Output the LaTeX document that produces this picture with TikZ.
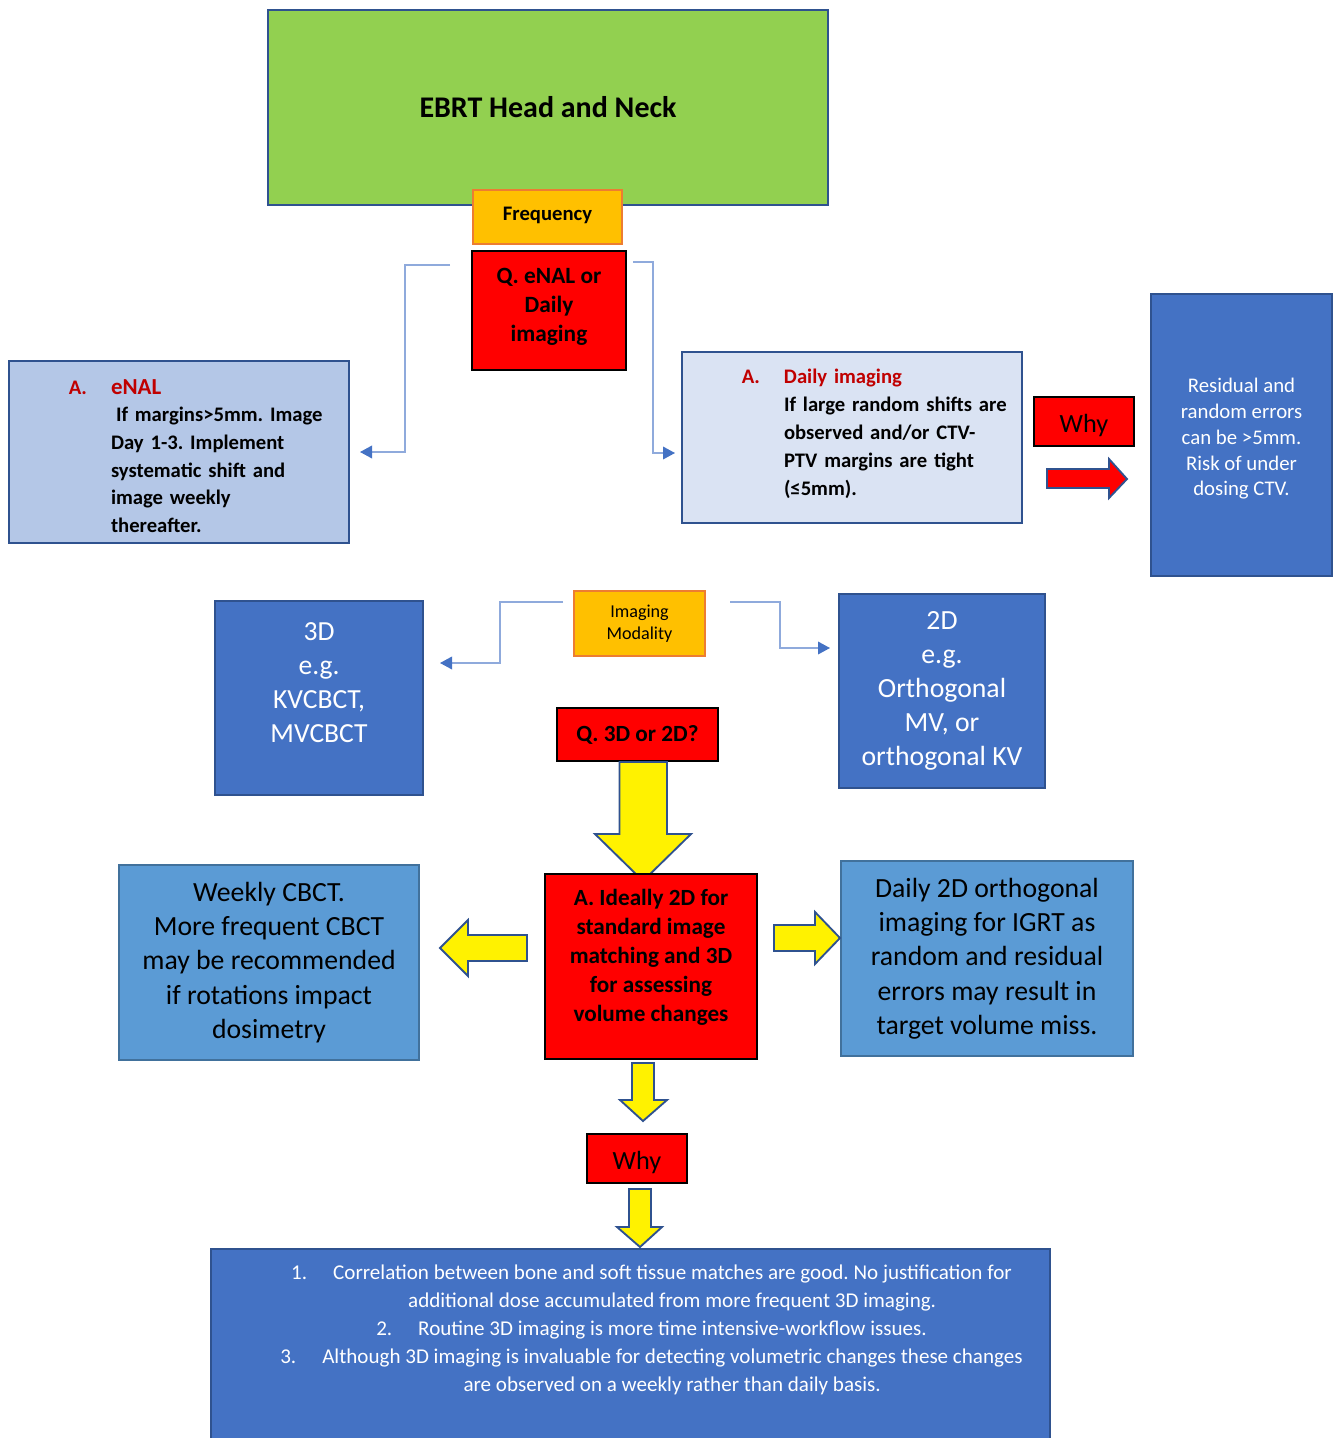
\documentclass[tikz,border=0pt]{standalone}
\usepackage{fontspec}
\setmainfont{Carlito}
\usepackage{xcolor}
\definecolor{grassgreen}{HTML}{92D050}
\definecolor{edgeblue}{HTML}{2F528F}
\definecolor{gold}{HTML}{FFC000}
\definecolor{goldedge}{HTML}{ED7D31}
\definecolor{paleblue}{HTML}{B4C7E7}
\definecolor{mistblue}{HTML}{DAE3F3}
\definecolor{slateblue}{HTML}{4472C4}
\definecolor{linkblue}{HTML}{8FAADC}
\definecolor{skyblue}{HTML}{5B9BD5}
\definecolor{skyedge}{HTML}{41719C}
\definecolor{answerred}{HTML}{C00000}
\usepackage{tikz}
\usetikzlibrary{positioning}
\usetikzlibrary{arrows.meta}
\newcommand{\fsz}[2]{\fontsize{#1}{#2}\selectfont}
\frenchspacing

\begin{document}
\begin{tikzpicture}[x=0.75pt,y=-0.75pt,every node/.style={inner sep=0,outer sep=0},
	sz/.style 2 args={minimum width={#1*0.75pt},minimum height={#2*0.75pt}},
	panel/.style={rectangle,draw=edgeblue,line width=1.4pt},
	goldbox/.style={rectangle,draw=goldedge,fill=gold,line width=1.4pt},
	redbox/.style={rectangle,draw=black,fill=red,line width=1.1pt},
	bluebox/.style={panel,fill=slateblue,text=white},
	skybox/.style={rectangle,draw=skyedge,fill=skyblue,line width=1.4pt,align=center,font=\fsz{20.8}{25.7}},
	link/.style={draw=linkblue,line width=1pt,-{Triangle[length=9pt,width=9.5pt,color=slateblue]}},
	yarrow/.style={draw=edgeblue,fill=yellow,line width=1.4pt},
	rarrow/.style={draw=edgeblue,fill=red,line width=1.4pt}]
	\useasboundingbox (0,0) rectangle (1336,1438);
	% frequency branch
	\node[panel,fill=grassgreen,sz={560}{195},font=\bfseries\fsz{22.5}{27}] (title) at (548,107.5) {EBRT Head and Neck};
	\node[goldbox,sz={149}{54}] (freq) at (547.5,217) {};
	\node[font=\bfseries\fsz{15.5}{19}] (freqtxt) at (547.5,215.5) {Frequency};
	\node[redbox,sz={154}{119}] (qenal) at (549,310.5) {};
	\node[align=center,font=\bfseries\fsz{17.5}{21.75}] (qenaltxt) at (549,306.5) {Q. eNAL or\\Daily\\imaging};
	\node[panel,fill=paleblue,sz={340}{182}] (enal) at (179,452) {};
	\node[anchor=west,text width=180pt,align=left,font=\bfseries\fsz{15.5}{20.8}] (enaltxt) at (111,456)
		{{\color{answerred}\llap{A.\hspace{18pt}}\fsz{17.2}{20.8}eNAL}\\\hspace*{3.75pt}If margins>5mm. Image\\Day 1-3. Implement\\systematic shift and\\image weekly\\thereafter.};
	\node[panel,fill=mistblue,sz={340}{171}] (daily) at (852,437.5) {};
	\node[anchor=west,text width=180pt,align=left,font=\bfseries\fsz{15.5}{21}] (dailytxt) at (784,434)
		{{\color{answerred}\llap{A.\hspace{18pt}}Daily imaging}\\If large random shifts are\\observed and/or CTV-\\PTV margins are tight\\(≤5mm).};
	\node[redbox,sz={100}{49}] (why) at (1084,421.5) {};
	\node[font=\fsz{19.7}{24}] (whytxt) at (1084,425.5) {Why};
	\node[bluebox,sz={181}{282}] (residual) at (1241.5,435) {};
	\node[align=center,text=white,font=\fsz{15.6}{19.3}] (residualtxt) at (1241.5,439)
		{Residual and\\random errors\\can be >5mm.\\Risk of under\\dosing CTV.};
	\draw[rarrow] (1047,469) -- (1109,469) -- (1109,459) -- (1127,479) -- (1109,498) -- (1109,488) -- (1047,488) -- cycle;
	\coordinate (freqL) at (450,265);
	\coordinate (freqLbend) at (405,452);
	\coordinate (enalin) at (360,452);
	\coordinate (freqR) at (633,262);
	\coordinate (freqRbend) at (653,453);
	\coordinate (dailyin) at (675,453);
	\draw[link] (freqL) -| (freqLbend) -- (enalin);
	\draw[link] (freqR) -| (freqRbend) -- (dailyin);
	% modality branch
	\node[goldbox,sz={131}{65},align=center,font=\fsz{13.6}{16.5}] (modality) at (639.5,623.5) {Imaging\\Modality};
	\node[bluebox,sz={208}{194}] (threeD) at (319,698) {};
	\node[align=center,text=white,font=\fsz{20.7}{25.5}] (threeDtxt) at (319,682.5) {3D\\e.g.\\KVCBCT,\\MVCBCT};
	\node[bluebox,sz={206}{194},align=center,font=\fsz{20.8}{25.5}] (twoD) at (942,691)
		{2D\\e.g.\\Orthogonal\\MV, or\\orthogonal KV};
	\coordinate (modL) at (563,602);
	\coordinate (modLbend) at (500,663);
	\coordinate (threeDin) at (440,663);
	\coordinate (modR) at (730,602);
	\coordinate (modRbend) at (780,648);
	\coordinate (twoDin) at (830,648);
	\draw[link] (modL) -| (modLbend) -- (threeDin);
	\draw[link] (modR) -| (modRbend) -- (twoDin);
	\node[redbox,sz={161}{53},font=\bfseries\fsz{17.4}{21}] (qdim) at (637.5,734.5) {Q. 3D or 2D?};
	\draw[yarrow] (619.5,762) -- (667,762) -- (667,834) -- (691,834) -- (643,881) -- (595,834) -- (619.5,834) -- cycle;
	\node[redbox,sz={212}{185}] (ideal) at (651,966.5) {};
	\node[align=center,font=\bfseries\fsz{17.4}{21.75}] (idealtxt) at (651,957.5)
		{A. Ideally 2D for\\standard image\\matching and 3D\\for assessing\\volume changes};
	\node[skybox,sz={300}{195}] (weekly) at (269,962.5)
		{Weekly CBCT.\\More frequent CBCT\\may be recommended\\if rotations impact\\dosimetry};
	\node[skybox,sz={292}{195}] (dailytwoD) at (987,958.5)
		{Daily 2D orthogonal\\imaging for IGRT as\\random and residual\\errors may result in\\target volume miss.};
	\draw[yarrow] (440,948) -- (468,920) -- (468,935) -- (527,935) -- (527,961) -- (468,961) -- (468,976) -- cycle;
	\draw[yarrow] (774,925) -- (815,925) -- (815,912) -- (840,938) -- (815,964) -- (815,951) -- (774,951) -- cycle;
	\draw[yarrow] (632,1063) -- (654,1063) -- (654,1100) -- (667,1100) -- (643,1121) -- (620,1100) -- (632,1100) -- cycle;
	\node[redbox,sz={100}{49}] (whytwo) at (637,1158.5) {};
	\node[font=\fsz{19.7}{24}] (whytwotxt) at (637,1162) {Why};
	% reasons
	\node[panel,fill=slateblue,sz={839}{196}] (reasons) at (630.5,1347) {};
	\draw[yarrow] (629,1189) -- (651,1189) -- (651,1227) -- (662,1227) -- (640,1247) -- (617,1227) -- (629,1227) -- cycle;
	\node[align=center,text=white,font=\fsz{15.8}{21}] (reasonstxt) at (651.5,1329.5)
		{1.\hspace{19.5pt}Correlation between bone and soft tissue matches are good. No justification for\\
		\hspace*{31pt}additional dose accumulated from more frequent 3D imaging.\\
		2.\hspace{19.5pt}Routine 3D imaging is more time intensive-workflow issues.\\
		3.\hspace{19.5pt}Although 3D imaging is invaluable for detecting volumetric changes these changes\\
		\hspace*{31pt}are observed on a weekly rather than daily basis.};
\end{tikzpicture}
\end{document}
